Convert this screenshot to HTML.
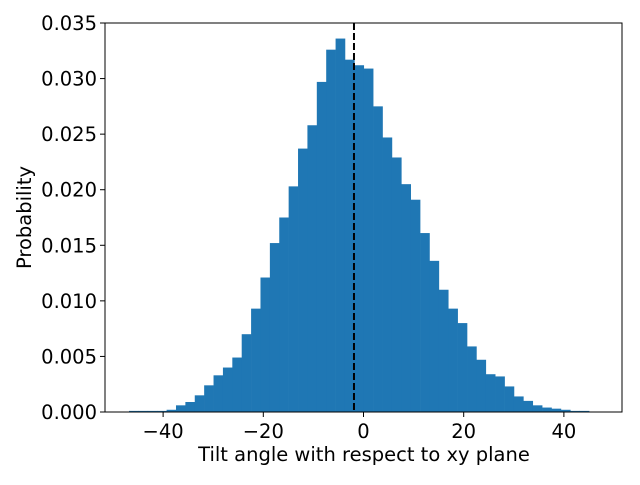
<!DOCTYPE html>
<html><head><meta charset="utf-8"><style>
body{margin:0;background:#fff;}
svg text{font-family:"DejaVu Sans","Liberation Sans",sans-serif;fill:#000;}
</style></head><body>
<svg id="chart" width="640" height="480"></svg>
<script>
const binStart = -46.8;
const binWidth = 1.874;
const probabilities = [0.0001,0.0001,0.0001,0.0001,0.0002,0.0006,0.0009,0.0015,0.0024,0.0033,0.0040,0.0049,0.0070,0.0093,0.0121,0.0152,0.0175,0.0203,0.0237,0.0258,0.0297,0.0326,0.0336,0.0317,0.0312,0.0309,0.0275,0.0247,0.0229,0.0205,0.0191,0.0161,0.0136,0.0110,0.0093,0.0080,0.0059,0.0047,0.0034,0.0032,0.0023,0.0014,0.0010,0.0006,0.0004,0.0003,0.0002,0.0001,0.0001];
const xTicks = [-40,-20,0,20,40];
const yTicks = [0,0.005,0.010,0.015,0.020,0.025,0.030,0.035];
const yTickLabels = ["0.000","0.005","0.010","0.015","0.020","0.025","0.030","0.035"];
const meanLine = -1.9;

const L=105,R=622,T=23,B=412;
const xMin=-51.6,xMax=51.6,yMin=0,yMax=0.035;
const sx=v=>L+(v-xMin)/(xMax-xMin)*(R-L);
const sy=v=>B-(v-yMin)/(yMax-yMin)*(B-T);
const NS="http://www.w3.org/2000/svg";
const svg=document.getElementById('chart');
function mk(tag,attrs,parent){const e=document.createElementNS(NS,tag);for(const k in attrs)e.setAttribute(k,attrs[k]);(parent||svg).appendChild(e);return e;}

const bars=mk('g',{});


probabilities.forEach((p,i)=>{
  const x0=sx(binStart+i*binWidth),x1=sx(binStart+(i+1)*binWidth);
  const r=mk('rect',{x:x0,y:sy(p),width:x1-x0+0.3,height:sy(0)-sy(p),fill:'#1f77b4'},bars);
  
  
});
const ml=mk('line',{x1:sx(meanLine),x2:sx(meanLine),y1:T,y2:B,stroke:'#000','stroke-width':2,'stroke-dasharray':'7,3'});


const frame=mk('rect',{x:L,y:T,width:R-L,height:B-T,fill:'none',stroke:'#000','stroke-width':1});



xTicks.forEach(t=>{
  const x=sx(t);
  const tk=mk('line',{x1:x,x2:x,y1:B,y2:B+5,stroke:'#000'});
  
  
  const tx=mk('text',{x:x,y:B+26,'text-anchor':'middle','font-size':19.5});
  tx.textContent=(t<0?'\u2212'+(-t):t);
  
  
});
yTicks.forEach((t,i)=>{
  const y=sy(t);
  const tk=mk('line',{x1:L-5,x2:L,y1:y,y2:y,stroke:'#000'});
  
  
  const tx=mk('text',{x:L-8,y:y+7,'text-anchor':'end','font-size':19.5});
  tx.textContent=yTickLabels[i];
  
  
});
const xl=mk('text',{x:(L+R)/2+0.5,y:461,'text-anchor':'middle','font-size':19.5});
xl.textContent='Tilt angle with respect to xy plane';


const yl=mk('text',{x:0,y:0,'text-anchor':'middle','font-size':19.5,transform:'translate(31,'+((T+B)/2)+') rotate(-90)'});
yl.textContent='Probability';


</script>
</body></html>
